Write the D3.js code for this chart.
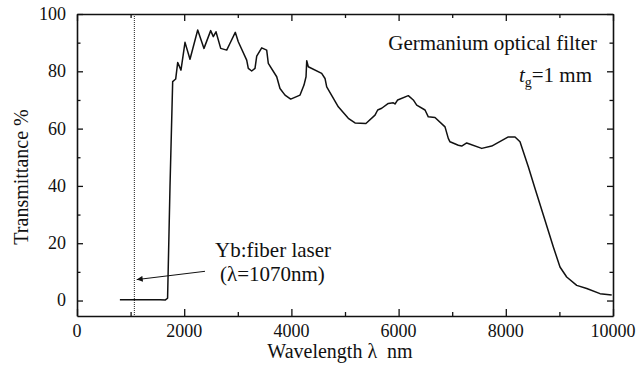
<!DOCTYPE html>
<html>
<head>
<meta charset="utf-8">
<script src="https://cdn.jsdelivr.net/npm/d3@7"></script>
<style>
  body { margin: 0; background: #fff; }
  svg text { font-family: "Liberation Serif", "Times New Roman", serif; fill: #111; }
</style>
</head>
<body>
<div id="chart"></div>
<script>
// transmittance of a 1 mm germanium filter
const wavelength = [800, 1550, 1650, 1690, 1735, 1785, 1841, 1879, 1940, 2015, 2108, 2252, 2369, 2494, 2543,
  2593, 2681, 2793, 2855, 2953, 3009, 3166, 3196, 3259, 3321, 3353, 3446, 3539, 3569, 3726, 3787, 3881,
  3987, 4161, 4235, 4273, 4286, 4315, 4565, 4627, 4659, 4875, 5062, 5187, 5390, 5560, 5610, 5685, 5808,
  5901, 5933, 5983, 6181, 6274, 6338, 6493, 6554, 6679, 6866, 6927, 6959, 7114, 7177, 7271, 7551, 7737,
  8047, 8172, 8265, 8420, 8545, 8731, 8887, 9011, 9136, 9323, 9510, 9758, 9976];
const transmittance = [0.3, 0.3, 0.2, 0.8, 39.7, 76.4, 77.3, 83.1, 80.4, 90.1, 84.2, 94.4, 88, 94.2, 92.1,
  93.8, 88, 87.4, 89.8, 93.6, 90.3, 83.9, 81, 80.1, 81, 85.3, 88.2, 87.4, 82.8, 78.1, 74, 71.7,
  70.3, 71.7, 75.2, 78.1, 83.7, 81.6, 79.3, 77.5, 74.6, 67.6, 63.6, 62, 61.8, 64.7, 66.5, 67.1, 68.8,
  69, 68.6, 70, 71.5, 70, 68.2, 66.5, 64.1, 63.9, 60.6, 56.6, 55.4, 54.2, 53.9, 55, 53.1, 53.9,
  57.1, 57.1, 55.4, 46.7, 39.1, 28, 18.7, 11.7, 8.2, 5.3, 4.2, 2.4, 1.9];

const xTicks = [0, 2000, 4000, 6000, 8000, 10000];
const xMinor = [1000, 3000, 5000, 7000, 9000];
const yTicks = [0, 20, 40, 60, 80, 100];
const yMinor = [10, 30, 50, 70, 90];

const laserWl = 1070;
const arrowFrom = [2388, 10.2];
const arrowTo = [1114, 7.3];

const fullW = 639, fullH = 372;
const margin = { top: 14, right: 26, bottom: 56, left: 77 };
const width = fullW - margin.left - margin.right;
const height = fullH - margin.top - margin.bottom;

const svg = d3.select("#chart").append("svg")
  .attr("width", fullW)
  .attr("height", fullH);

svg.append("defs").append("marker")
  .attr("id", "arrow")
  .attr("viewBox", "0 0 10 10")
  .attr("refX", 10).attr("refY", 5)
  .attr("markerWidth", 9).attr("markerHeight", 6)
  .attr("markerUnits", "userSpaceOnUse")
  .attr("orient", "auto")
  .append("path")
  .attr("d", "M0,0L10,5L0,10z")
  .attr("fill", "#111");

const g = svg.append("g")
  .attr("transform", `translate(${margin.left},${margin.top})`);

const x = d3.scaleLinear().domain([0, 10000]).range([0, width]);
const y = d3.scaleLinear().domain([-5.4, 100]).range([height, 0]);

// the major axis domains form the frame; all ticks point inward
const styleAxis = (keepDomain) => (sel) => {
  if (keepDomain) sel.select(".domain").attr("stroke", "#111").attr("stroke-width", 1.6);
  else sel.select(".domain").remove();
  sel.selectAll("line").attr("stroke", "#111").attr("stroke-width", 1.3);
};
function inward(axis, vals, size) {
  return axis.tickValues(vals).tickSizeInner(-size).tickSizeOuter(0).tickFormat("");
}

g.append("g").attr("transform", `translate(0,${height})`)
  .call(inward(d3.axisBottom(x), xTicks, 7)).call(styleAxis(true));
g.append("g").attr("transform", `translate(0,${height})`)
  .call(inward(d3.axisBottom(x), xMinor, 4)).call(styleAxis(false));
g.append("g").call(inward(d3.axisTop(x), xTicks, 7)).call(styleAxis(true));
g.append("g").call(inward(d3.axisTop(x), xMinor, 4)).call(styleAxis(false));
g.append("g").call(inward(d3.axisLeft(y), yTicks, 6)).call(styleAxis(true));
g.append("g").call(inward(d3.axisLeft(y), yMinor, 3.5)).call(styleAxis(false));
g.append("g").attr("transform", `translate(${width},0)`)
  .call(inward(d3.axisRight(y), yTicks, 6)).call(styleAxis(true));
g.append("g").attr("transform", `translate(${width},0)`)
  .call(inward(d3.axisRight(y), yMinor, 3.5)).call(styleAxis(false));

// tick labels
g.append("g").selectAll("text").data(xTicks).join("text")
  .attr("x", d => x(d))
  .attr("y", height + 21)
  .attr("text-anchor", "middle")
  .style("font-size", "18px")
  .text(d => d);

g.append("g").selectAll("text").data(yTicks).join("text")
  .attr("x", -11)
  .attr("y", d => y(d))
  .attr("dy", "0.33em")
  .attr("text-anchor", "end")
  .style("font-size", "18px")
  .text(d => d);

// laser wavelength marker
g.append("line")
  .attr("x1", x(laserWl)).attr("x2", x(laserWl))
  .attr("y1", 0).attr("y2", height)
  .attr("stroke", "#222").attr("stroke-width", 1)
  .attr("stroke-dasharray", "1,1");

const line = d3.line().x((d, i) => x(wavelength[i])).y(d => y(d));
g.append("path")
  .datum(transmittance)
  .attr("d", line)
  .attr("fill", "none")
  .attr("stroke", "#111")
  .attr("stroke-width", 1.5)
  .attr("stroke-linejoin", "round");

g.append("line")
  .attr("x1", x(arrowFrom[0])).attr("y1", y(arrowFrom[1]))
  .attr("x2", x(arrowTo[0])).attr("y2", y(arrowTo[1]))
  .attr("stroke", "#111").attr("stroke-width", 1)
  .attr("marker-end", "url(#arrow)");

// annotations
g.append("text")
  .attr("x", x(2575)).attr("y", y(15.2))
  .style("font-size", "21px")
  .text("Yb:fiber laser");
g.append("text")
  .attr("x", x(2668)).attr("y", y(6.8))
  .style("font-size", "21px")
  .text("(λ=1070nm)");

g.append("text")
  .attr("x", width - 16).attr("y", 36)
  .attr("text-anchor", "end")
  .style("font-size", "21px")
  .text("Germanium optical filter");

const tg = g.append("text")
  .attr("x", width - 21).attr("y", 68)
  .attr("text-anchor", "end")
  .style("font-size", "21px");
tg.append("tspan").style("font-style", "italic").text("t");
tg.append("tspan").attr("dy", 5).style("font-size", "14px").text("g");
tg.append("tspan").attr("dy", -5).text("=1 mm");

// axis titles
svg.append("text")
  .attr("x", 340)
  .attr("y", fullH - 14)
  .attr("text-anchor", "middle")
  .style("font-size", "20px")
  .style("white-space", "pre")
  .text("Wavelength λ  nm");

svg.append("text")
  .attr("transform", `translate(28,${margin.top + height / 2 + 12}) rotate(-90)`)
  .attr("text-anchor", "middle")
  .style("font-size", "20px")
  .text("Transmittance %");
</script>
</body>
</html>
